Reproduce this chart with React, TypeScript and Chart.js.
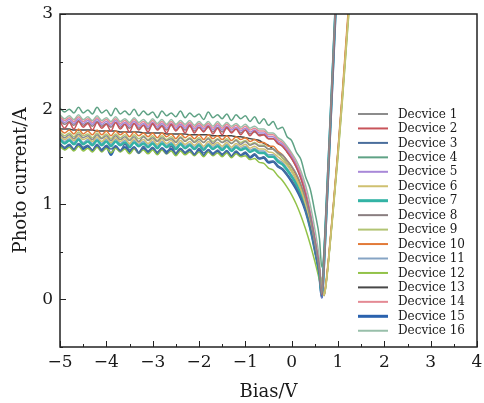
import React, { useEffect, useRef } from "react";
import { Chart, registerables } from "chart.js";

Chart.register(...registerables);

const BIAS = [
  -5.0, -4.9, -4.8, -4.7, -4.6, -4.5, -4.4, -4.3, -4.2, -4.1,
  -4.0, -3.9, -3.8, -3.7, -3.6, -3.5, -3.4, -3.3, -3.2, -3.1,
  -3.0, -2.9, -2.8, -2.7, -2.6, -2.5, -2.4, -2.3, -2.2, -2.1,
  -2.0, -1.9, -1.8, -1.7, -1.6, -1.5, -1.4, -1.3, -1.2, -1.1,
  -1.0, -0.9, -0.8, -0.7, -0.6, -0.5, -0.4, -0.3, -0.2, -0.1,
  0.0, 0.1, 0.2, 0.3, 0.4, 0.5, 0.6,
  0.65, 0.7, 0.75, 0.8, 0.9, 1.0, 1.1, 1.2, 1.3,
];

const D1 = [
  1.74,1.70,1.73,1.69,1.74,1.70,1.72,1.68,1.73,1.69,1.72,1.67,1.72,1.68,1.71,1.67,1.71,1.66,1.71,1.67,
  1.70,1.66,1.70,1.67,1.69,1.65,1.70,1.66,1.69,1.65,1.68,1.65,1.69,1.64,1.68,1.65,1.67,1.64,1.67,1.63,
  1.66,1.62,1.64,1.61,1.61,1.58,1.58,1.54,1.52,1.46,1.40,1.32,1.21,1.06,0.86,0.60,0.30,
  0.06,0.40,0.95,1.50,2.60,3.70,4.8,5.9,7.0,
];
const D2 = [
  1.87,1.80,1.86,1.79,1.87,1.81,1.85,1.78,1.86,1.80,1.84,1.77,1.86,1.79,1.84,1.76,1.85,1.78,1.83,1.76,
  1.85,1.78,1.82,1.75,1.84,1.77,1.82,1.75,1.83,1.75,1.81,1.76,1.82,1.74,1.80,1.73,1.81,1.75,1.79,1.73,
  1.78,1.72,1.77,1.72,1.73,1.69,1.69,1.64,1.61,1.55,1.48,1.39,1.27,1.10,0.88,0.62,0.31,
  0.05,0.42,0.95,1.48,2.55,3.65,4.7,5.8,6.9,
];
const D3 = [
  1.64,1.60,1.63,1.58,1.64,1.60,1.62,1.57,1.63,1.56,1.62,1.58,1.61,1.56,1.63,1.57,1.60,1.54,1.61,1.56,
  1.60,1.55,1.59,1.53,1.61,1.54,1.59,1.54,1.58,1.52,1.59,1.54,1.57,1.52,1.57,1.53,1.56,1.51,1.56,1.52,
  1.55,1.50,1.53,1.48,1.50,1.45,1.45,1.40,1.37,1.31,1.25,1.17,1.07,0.94,0.76,0.52,0.25,
  0.03,0.40,0.92,1.45,2.50,3.60,4.7,5.8,6.9,
];
const D4 = [
  2.01,1.97,2.00,1.96,2.02,1.96,1.99,1.95,2.02,1.96,1.99,1.93,2.01,1.95,1.98,1.94,2.00,1.93,1.98,1.94,
  1.97,1.91,1.98,1.93,1.96,1.92,1.98,1.91,1.96,1.92,1.95,1.89,1.97,1.91,1.94,1.90,1.95,1.88,1.94,1.90,
  1.93,1.87,1.92,1.85,1.90,1.83,1.87,1.79,1.81,1.71,1.67,1.55,1.47,1.29,1.16,0.92,0.64,
  0.34,0.52,0.98,1.50,2.55,3.65,4.7,5.8,6.9,
];
const D5 = [
  1.90,1.86,1.89,1.85,1.90,1.85,1.88,1.84,1.89,1.84,1.87,1.83,1.88,1.83,1.86,1.82,1.87,1.82,1.85,1.81,
  1.86,1.81,1.85,1.80,1.85,1.80,1.84,1.80,1.84,1.79,1.83,1.79,1.83,1.78,1.83,1.78,1.82,1.78,1.81,1.77,
  1.80,1.76,1.78,1.75,1.75,1.71,1.71,1.66,1.63,1.57,1.50,1.41,1.29,1.12,0.90,0.63,0.32,
  0.02,0.40,0.93,1.46,2.52,3.62,4.7,5.8,6.9,
];
const D6 = [
  1.72,1.68,1.71,1.67,1.72,1.68,1.70,1.66,1.71,1.66,1.70,1.65,1.70,1.66,1.69,1.64,1.69,1.65,1.68,1.64,
  1.68,1.63,1.68,1.64,1.67,1.62,1.67,1.63,1.66,1.62,1.66,1.61,1.66,1.62,1.65,1.61,1.65,1.60,1.64,1.61,
  1.63,1.59,1.61,1.58,1.58,1.55,1.54,1.50,1.46,1.41,1.34,1.26,1.15,1.00,0.81,0.57,0.30,
  0.12,0.04,0.20,0.44,0.98,1.55,2.18,2.85,3.50,
];
const D7 = [
  1.68,1.64,1.67,1.63,1.68,1.63,1.66,1.62,1.67,1.62,1.66,1.61,1.66,1.62,1.65,1.60,1.65,1.61,1.64,1.60,
  1.64,1.59,1.64,1.60,1.63,1.58,1.63,1.59,1.62,1.58,1.62,1.57,1.62,1.58,1.61,1.57,1.61,1.56,1.60,1.57,
  1.59,1.55,1.57,1.54,1.54,1.50,1.50,1.45,1.42,1.36,1.29,1.21,1.10,0.96,0.77,0.54,0.27,
  0.04,0.42,0.95,1.48,2.55,3.65,4.7,5.8,6.9,
];
const D8 = [
  1.88,1.84,1.87,1.83,1.88,1.83,1.86,1.82,1.87,1.82,1.85,1.81,1.86,1.81,1.84,1.80,1.85,1.80,1.83,1.79,
  1.84,1.79,1.83,1.78,1.83,1.78,1.82,1.78,1.82,1.77,1.81,1.77,1.81,1.76,1.81,1.76,1.80,1.76,1.79,1.75,
  1.78,1.74,1.76,1.73,1.73,1.69,1.69,1.64,1.61,1.55,1.48,1.39,1.27,1.11,0.89,0.62,0.32,
  0.05,0.40,0.92,1.45,2.50,3.60,4.7,5.8,6.9,
];
const D9 = [
  1.76,1.72,1.75,1.71,1.76,1.72,1.74,1.70,1.75,1.70,1.74,1.69,1.74,1.70,1.73,1.68,1.73,1.69,1.72,1.68,
  1.72,1.67,1.72,1.68,1.71,1.66,1.71,1.67,1.70,1.66,1.70,1.65,1.70,1.66,1.69,1.65,1.69,1.64,1.68,1.65,
  1.67,1.63,1.65,1.62,1.62,1.58,1.58,1.53,1.49,1.43,1.36,1.27,1.16,1.01,0.82,0.58,0.31,
  0.14,0.05,0.18,0.42,0.95,1.50,2.12,2.78,3.42,
];
const D10 = [
  1.79,1.75,1.78,1.74,1.79,1.74,1.77,1.73,1.78,1.73,1.77,1.72,1.77,1.73,1.76,1.71,1.76,1.72,1.75,1.71,
  1.75,1.70,1.75,1.71,1.74,1.69,1.74,1.70,1.73,1.69,1.73,1.68,1.73,1.69,1.72,1.68,1.72,1.67,1.71,1.68,
  1.70,1.66,1.68,1.65,1.65,1.61,1.61,1.56,1.52,1.46,1.39,1.30,1.19,1.04,0.84,0.59,0.31,
  0.13,0.06,0.22,0.46,1.00,1.58,2.22,2.90,3.55,
];
const D11 = [
  1.70,1.66,1.69,1.65,1.70,1.65,1.68,1.64,1.69,1.64,1.68,1.63,1.68,1.64,1.67,1.62,1.67,1.63,1.66,1.62,
  1.66,1.61,1.66,1.62,1.65,1.60,1.65,1.61,1.64,1.60,1.64,1.59,1.64,1.60,1.63,1.59,1.63,1.58,1.62,1.59,
  1.61,1.57,1.59,1.56,1.56,1.52,1.52,1.47,1.44,1.38,1.31,1.23,1.12,0.98,0.79,0.55,0.28,
  0.05,0.41,0.93,1.46,2.52,3.62,4.7,5.8,6.9,
];
const D12 = [
  1.61,1.57,1.60,1.56,1.61,1.56,1.59,1.55,1.60,1.55,1.59,1.54,1.59,1.55,1.58,1.53,1.58,1.54,1.57,1.53,
  1.57,1.52,1.57,1.53,1.56,1.51,1.56,1.52,1.55,1.51,1.55,1.50,1.55,1.51,1.54,1.50,1.54,1.49,1.53,1.50,
  1.51,1.47,1.48,1.44,1.43,1.38,1.36,1.30,1.25,1.18,1.10,1.00,0.88,0.74,0.58,0.40,0.20,
  0.08,0.05,0.20,0.43,0.96,1.52,2.14,2.80,3.46,
];
const D13 = [
  1.79,1.79,1.79,1.78,1.78,1.78,1.78,1.78,1.77,1.77,1.77,1.77,1.77,1.76,1.76,1.76,1.76,1.76,1.75,1.75,
  1.75,1.75,1.75,1.74,1.74,1.74,1.74,1.74,1.73,1.73,1.73,1.73,1.73,1.72,1.72,1.72,1.72,1.72,1.71,1.71,
  1.70,1.69,1.68,1.67,1.64,1.62,1.58,1.54,1.49,1.43,1.35,1.26,1.15,1.00,0.81,0.57,0.30,
  0.13,0.04,0.20,0.44,0.98,1.56,2.18,2.85,3.50,
];
const D14 = [
  1.92,1.88,1.91,1.87,1.92,1.87,1.90,1.86,1.91,1.86,1.89,1.85,1.90,1.85,1.88,1.84,1.89,1.84,1.87,1.83,
  1.88,1.83,1.87,1.82,1.87,1.82,1.86,1.82,1.86,1.81,1.85,1.81,1.85,1.80,1.85,1.80,1.84,1.80,1.83,1.79,
  1.82,1.78,1.80,1.77,1.77,1.73,1.73,1.68,1.65,1.59,1.52,1.43,1.31,1.14,0.92,0.65,0.33,
  0.04,0.40,0.92,1.45,2.50,3.60,4.7,5.8,6.9,
];
const D15 = [
  1.63,1.58,1.62,1.57,1.63,1.58,1.61,1.56,1.62,1.57,1.61,1.52,1.61,1.56,1.60,1.55,1.60,1.54,1.59,1.55,
  1.59,1.53,1.59,1.55,1.58,1.52,1.58,1.54,1.57,1.52,1.57,1.51,1.57,1.53,1.56,1.51,1.56,1.50,1.55,1.51,
  1.54,1.49,1.52,1.48,1.49,1.44,1.45,1.40,1.37,1.31,1.24,1.16,1.06,0.93,0.75,0.52,0.25,
  0.02,0.40,0.93,1.46,2.52,3.62,4.7,5.8,6.9,
];
const D16 = [
  1.94,1.90,1.93,1.89,1.94,1.89,1.92,1.88,1.93,1.88,1.91,1.87,1.92,1.87,1.90,1.86,1.91,1.86,1.89,1.85,
  1.90,1.85,1.89,1.84,1.89,1.84,1.88,1.84,1.88,1.83,1.87,1.83,1.87,1.82,1.87,1.82,1.86,1.82,1.85,1.81,
  1.84,1.80,1.82,1.79,1.79,1.75,1.75,1.70,1.67,1.61,1.54,1.46,1.35,1.20,1.00,0.74,0.41,
  0.10,0.42,0.95,1.48,2.55,3.65,4.7,5.8,6.9,
];

const SERIES = [D1, D2, D3, D4, D5, D6, D7, D8, D9, D10, D11, D12, D13, D14, D15, D16];
const LABELS = SERIES.map((_, i) => `Decvice ${i + 1}`);
const COLORS = [
  "#8c8c8c", "#c8545a", "#4a6e9c", "#5fa285", "#a888d8", "#cfc070", "#33b3a5", "#8a7e80",
  "#b2c474", "#e27a38", "#86a4c4", "#92c248", "#474747", "#e48a94", "#2a62ae", "#98bfaa",
];
const WIDTHS = [1.5, 1.5, 1.5, 1.5, 1.5, 1.5, 2.5, 1.5, 1.5, 1.5, 1.5, 1.5, 1.5, 1.5, 2.5, 1.5];

const X_TICKS = [-5, -4, -3, -2, -1, 0, 1, 2, 3, 4];
const Y_TICKS = [0, 1, 2, 3];

const SERIF = "'DejaVu Serif', serif";

const decorPlugin = {
  id: "decor",
  afterDatasetsDraw(chart: any) {
    const { ctx, chartArea: a, scales } = chart;
    const xs = scales.x;
    const ys = scales.y;
    ctx.save();
    ctx.strokeStyle = "#222";
    ctx.lineWidth = 1;
    ctx.beginPath();
    for (let k = -10; k <= 8; k++) {
      const v = k / 2;
      const px = Math.round(xs.getPixelForValue(v)) + 0.5;
      const len = k % 2 === 0 ? 6 : 3;
      ctx.moveTo(px, a.bottom);
      ctx.lineTo(px, a.bottom - len);
    }
    for (let k = -1; k <= 6; k++) {
      const v = k / 2;
      const py = Math.round(ys.getPixelForValue(v)) + 0.5;
      const len = k % 2 === 0 ? 6 : 3;
      ctx.moveTo(a.left, py);
      ctx.lineTo(a.left + len, py);
    }
    ctx.stroke();
    ctx.lineWidth = 1.5;
    ctx.strokeRect(a.left, a.top, a.right - a.left, a.bottom - a.top);

    // legend
    const lx = a.right - 119;
    const ly = a.top + 100;
    const step = 14.45;
    ctx.font = `12px ${SERIF}`;
    ctx.textBaseline = "middle";
    ctx.textAlign = "left";
    chart.data.datasets.forEach((ds: any, i: number) => {
      const y = ly + i * step;
      ctx.strokeStyle = ds.borderColor;
      ctx.lineWidth = ds.borderWidth + 0.5;
      ctx.beginPath();
      ctx.moveTo(lx, y);
      ctx.lineTo(lx + 30, y);
      ctx.stroke();
      ctx.fillStyle = "#1a1a1a";
      ctx.fillText(ds.label, lx + 40, y + 0.5);
    });
    ctx.restore();
  },
};

export default function App() {
  const ref = useRef<HTMLCanvasElement | null>(null);
  useEffect(() => {
    document.body.style.margin = "0";
    const canvas = ref.current!;
    const chart = new Chart(canvas, {
      type: "line",
      data: {
        datasets: SERIES.map((s, i) => ({
          label: LABELS[i],
          data: s.map((v, j) => ({ x: BIAS[j], y: v })),
          borderColor: COLORS[i],
          backgroundColor: COLORS[i],
          borderWidth: WIDTHS[i],
          pointRadius: 0,
          cubicInterpolationMode: "monotone" as const,
          fill: false,
        })),
      },
      options: {
        animation: false,
        responsive: false,
        devicePixelRatio: 1,
        layout: { padding: { top: 14, right: 7, left: 0, bottom: 0 } },
        plugins: { legend: { display: false }, tooltip: { enabled: false } },
        scales: {
          x: {
            type: "linear",
            min: -5,
            max: 4,
            afterBuildTicks: (s: any) => {
              s.ticks = X_TICKS.map((v) => ({ value: v }));
            },
            afterFit: (s: any) => {
              s.height = 56;
              s.paddingLeft = 0;
              s.paddingRight = 0;
            },
            grid: { display: false, drawTicks: false },
            border: { display: false },
            ticks: {
              padding: 5,
              color: "#1a1a1a",
              font: { family: SERIF, size: 17 },
              callback: (v: any) => String(v).replace("-", "\u2212"),
            },
            title: {
              display: true,
              text: "Bias/V",
              color: "#1a1a1a",
              font: { family: SERIF, size: 18 },
              padding: { top: 0, bottom: 0 },
            },
          },
          y: {
            type: "linear",
            min: -0.5,
            max: 3,
            afterBuildTicks: (s: any) => {
              s.ticks = Y_TICKS.map((v) => ({ value: v }));
            },
            afterFit: (s: any) => {
              s.width = 60;
              s.paddingTop = 0;
              s.paddingBottom = 0;
            },
            grid: { display: false, drawTicks: false },
            border: { display: false },
            ticks: {
              padding: 7,
              color: "#1a1a1a",
              font: { family: SERIF, size: 17 },
              callback: (v: any) => String(v),
            },
            title: {
              display: true,
              text: "Photo current/A",
              color: "#1a1a1a",
              font: { family: SERIF, size: 18 },
              padding: { top: 11, bottom: 0 },
            },
          },
        },
      },
      plugins: [decorPlugin],
    });
    return () => chart.destroy();
  }, []);
  return <canvas ref={ref} width={484} height={403} />;
}
